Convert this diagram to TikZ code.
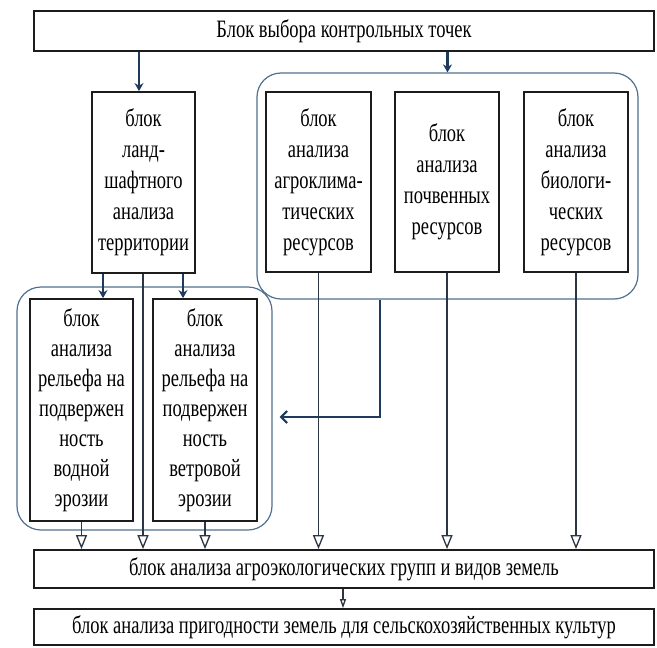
\documentclass[tikz,border=0pt]{standalone}
\usepackage{fontspec}
\newfontfamily\blokfont{Liberation Serif}[FakeStretch=0.74]
\usetikzlibrary{arrows.meta}
\definecolor{ramka}{HTML}{1C1C1C}
\definecolor{gruppac}{HTML}{52708F}
\definecolor{strelkac}{HTML}{1F3A5C}
\definecolor{liniyac}{HTML}{2A3644}
\tikzset{
	blok/.style={draw=ramka, line width=1.8pt, inner sep=0pt, align=center,
		font=\blokfont\fontsize{25}{31}\selectfont},
	gruppa/.style={draw=gruppac, line width=1.2pt, rounded corners=24pt, inner sep=0pt},
	strelka/.style={draw=strelkac, line width=2.2pt, -{Stealth[length=8pt,width=9pt]}},
	liniya/.style={draw=liniyac, line width=1.3pt, -{Triangle[open,length=14pt,width=11pt,fill=white]}}
}

\begin{document}
\begin{tikzpicture}[x=1pt, y=-1pt]
		\useasboundingbox (0,0) rectangle (657,648);
		% группы
		\node[gruppa, minimum width=381pt, minimum height=226pt] (grpR) at (447.5, 186) {};
		\node[gruppa, minimum width=255pt, minimum height=243pt] (grpL) at (144.5, 408.5) {};
		% верхний блок
		\node[blok, minimum width=620pt, minimum height=40pt] (top) at (344, 31) {Блок выбора контрольных точек};
		% ландшафт
		\node[blok, minimum width=103pt, minimum height=181pt] (land) at (143.5, 182.5) {блок\\ланд-\\шафтного\\анализа\\территории};
		% ресурсы
		\node[blok, minimum width=105pt, minimum height=180pt] (agro) at (318.5, 182) {блок\\анализа\\агроклима-\\тических\\ресурсов};
		\node[blok, minimum width=104pt, minimum height=180pt] (soil) at (447, 182) {блок\\анализа\\почвенных\\ресурсов};
		\node[blok, minimum width=104pt, minimum height=180pt] (bio) at (576, 182) {блок\\анализа\\биологи-\\ческих\\ресурсов};
		% рельеф
		\node[blok, minimum width=103pt, minimum height=222pt, font=\blokfont\fontsize{25}{30}\selectfont] (water) at (81.5, 410) {блок\\анализа\\рельефа на\\подвержен\\ность\\водной\\эрозии};
		\node[blok, minimum width=104pt, minimum height=222pt, font=\blokfont\fontsize{25}{30}\selectfont] (wind) at (205, 410) {блок\\анализа\\рельефа на\\подвержен\\ность\\ветровой\\эрозии};
		% нижние блоки
		\node[blok, minimum width=620pt, minimum height=38pt] (groups) at (344, 569) {блок анализа агроэкологических групп и видов земель};
		\node[blok, minimum width=620pt, minimum height=36pt] (suit) at (344, 627) {блок анализа пригодности земель для сельскохозяйственных культур};

		\draw[strelka] (top.south -| 139,0) -- (land.north -| 139,0);
		\draw[strelka] (top.south -| grpR) -- (grpR.north);
		\draw[strelka] (land.south -| 103,0) -- (water.north -| 103,0);
		\draw[strelka] (land.south -| 183,0) -- (wind.north -| 183,0);
		\draw[strelka, -{Straight Barb[length=6pt,width=12pt]}] (grpR.south -| 380,0) |- ([xshift=7pt]grpL.east |- 0,417);

		\draw[liniya] (land.south -| 143,0) -- (groups.north -| 143,0);
		\foreach \b in {water, wind, agro, soil, bio}
			\draw[liniya] (\b.south) -- (groups.north -| \b.south);
		\draw[liniya, -{Triangle[open,length=9pt,width=6pt,fill=white]}] (groups.south -| 343,0) -- (suit.north -| 343,0);
	\end{tikzpicture}
\end{document}
